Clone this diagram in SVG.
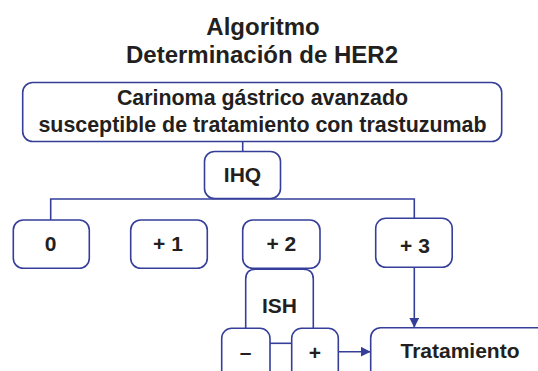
<svg xmlns="http://www.w3.org/2000/svg" width="538" height="371" viewBox="0 0 538 371">
  <style>
    .box { fill: #ffffff; stroke: #353f9a; stroke-width: 1.6; }
    .line { fill: none; stroke: #353f9a; stroke-width: 1.6; }
    text { font-family: "Liberation Sans", Arial, sans-serif; font-weight: bold; fill: #231f20; text-anchor: middle; }
    .t { font-size: 21px; }
    .tm { font-size: 21.4px; }
    .title { font-size: 24px; }
  </style>
  <defs>
    <marker id="arrow" viewBox="0 0 10 10" refX="10" refY="5" markerWidth="10" markerHeight="10" markerUnits="userSpaceOnUse" orient="auto">
      <path d="M0,0 L10,5 L0,10 Z" fill="#353f9a"/>
    </marker>
  </defs>
  <rect width="538" height="371" fill="#ffffff"/>

  <g id="title">
    <text class="title" x="263" y="35">Algoritmo</text>
    <text class="title" x="262" y="63">Determinación de HER2</text>
  </g>

  <g id="connectors">
    <line class="line" x1="242.7" y1="141" x2="242.7" y2="151.5"/>
    <polyline class="line" points="50.7,220 50.7,199 414.3,199 414.3,218.3"/>
    <line class="line" x1="270" y1="343.3" x2="291.7" y2="343.3"/>
    <line class="line" x1="338.3" y1="351.7" x2="370.7" y2="351.7" marker-end="url(#arrow)"/>
    <line class="line" x1="414.3" y1="267.3" x2="414.3" y2="327.7" marker-end="url(#arrow)"/>
  </g>

  <g id="node-carcinoma">
    <rect class="box" x="22.7" y="82.5" width="479" height="59" rx="10"/>
    <text class="tm" x="262.5" y="104.5">Carinoma gástrico avanzado</text>
    <text class="tm" x="262.5" y="132">susceptible de tratamiento con trastuzumab</text>
  </g>

  <g id="node-ihq">
    <rect class="box" x="204.5" y="151.5" width="76" height="47" rx="10"/>
    <text class="t" x="242.5" y="181.7">IHQ</text>
  </g>

  <g id="node-0">
    <rect class="box" x="13.3" y="220" width="76" height="48.3" rx="10"/>
    <text class="t" x="50.7" y="251">0</text>
  </g>

  <g id="node-1">
    <rect class="box" x="130.7" y="220" width="76.6" height="48.3" rx="10"/>
    <text class="t" x="168" y="251">+ 1</text>
  </g>

  <g id="node-2">
    <rect class="box" x="242.7" y="220" width="77.3" height="48.3" rx="10"/>
    <text class="t" x="281.3" y="251">+ 2</text>
  </g>

  <g id="node-3">
    <rect class="box" x="375.7" y="218.3" width="76.5" height="49" rx="10"/>
    <text class="t" x="415" y="253.3">+ 3</text>
  </g>

  <g id="node-ish">
    <path class="line" d="M245.7,328.3 V279.3 Q245.7,269.3 255.7,269.3 H303.3 Q313.3,269.3 313.3,279.3 V328.3"/>
    <text class="t" x="279.5" y="312.7">ISH</text>
  </g>

  <g id="node-neg">
    <rect class="box" x="221.7" y="328.3" width="48.3" height="60" rx="10"/>
    <text class="t" x="245.7" y="358.5">–</text>
  </g>

  <g id="node-pos">
    <rect class="box" x="291.7" y="328.3" width="46.6" height="60" rx="10"/>
    <text class="t" x="315" y="360">+</text>
  </g>

  <g id="node-tratamiento">
    <rect class="box" x="370.7" y="327.7" width="200" height="80" rx="10"/>
    <text class="t" x="460" y="358.3">Tratamiento</text>
  </g>
</svg>
